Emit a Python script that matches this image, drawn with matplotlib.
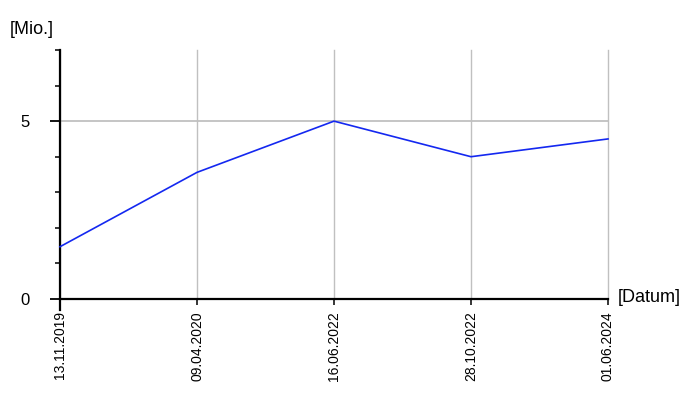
import matplotlib
matplotlib.use("Agg")
import matplotlib.pyplot as plt
from matplotlib.ticker import MultipleLocator

dates = ["13.11.2019", "09.04.2020", "16.06.2022", "28.10.2022", "01.06.2024"]
values = [1.47, 3.56, 5.0, 4.0, 4.5]

plt.rcParams['font.family'] = ['Liberation Sans', 'DejaVu Sans']

PX = 72 / 100  # points per pixel

fig = plt.figure(figsize=(7, 4), dpi=100)
ax = fig.add_axes([60/700, 1 - 299/400, (608-60)/700, (299-50)/400])

x = list(range(len(dates)))
ax.plot(x, values, color='#1428f0', lw=1.2, zorder=3, clip_on=False)

ax.set_xlim(0, len(dates) - 1)
ax.set_ylim(0, 7)
ax.set_xticks(x)
ax.set_xticklabels(dates, rotation=90, fontsize=10)
ax.set_yticks([0, 5])
ax.set_yticklabels(["0", "5"], fontsize=12)
ax.yaxis.set_minor_locator(MultipleLocator(1))

for xi in x:
    ax.axvline(xi, color='#c0c0c0', lw=1, zorder=1, clip_on=False)
ax.axhline(5, color='#c0c0c0', lw=1.3, zorder=1, clip_on=False)

for s in ['top', 'right']:
    ax.spines[s].set_visible(False)
for s in ['left', 'bottom']:
    ax.spines[s].set_linewidth(1.6)
    ax.spines[s].set_color('black')
ax.spines['left'].set_bounds(-0.3, 7)

ax.tick_params(axis='y', which='major', length=10*PX, width=1.3, pad=20*PX)
ax.tick_params(axis='y', which='minor', length=5*PX, width=1.1)
ax.tick_params(axis='x', which='major', length=6*PX, width=1.1, pad=6*PX)

fig.text(10/700, 1 - 29/400, "[Mio.]", fontsize=13, ha='left', va='center')
fig.text(618/700, 1 - 298/400, "[Datum]", fontsize=13, ha='left', va='center')

fig.savefig("out.png", dpi=100)
